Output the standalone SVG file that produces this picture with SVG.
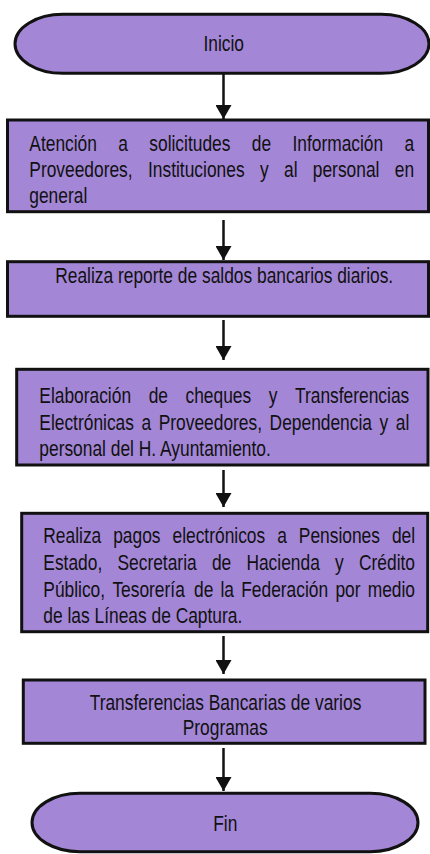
<svg xmlns="http://www.w3.org/2000/svg" width="430" height="854" viewBox="0 0 430 854">
<style>
.shape{fill:#A386D6;stroke:#111;stroke-width:3}
.t{font-family:"Liberation Sans","Arial",sans-serif;font-size:21.2px;fill:#111}
.c{text-anchor:middle}
.conn{stroke:#111;stroke-width:2.5;fill:none;marker-end:url(#ah)}
</style>
<defs>
<marker id="ah" markerUnits="userSpaceOnUse" markerWidth="14" markerHeight="16" viewBox="0 0 14 16" refX="14" refY="8" orient="auto">
<path d="M0,0 L14,8 L0,16 z" fill="#111"/>
</marker>
</defs>
<g id="connectors">
<line class="conn" x1="223.5" y1="74" x2="223.5" y2="119"/>
<line class="conn" x1="223.5" y1="220" x2="223.5" y2="260"/>
<line class="conn" x1="223.5" y1="320" x2="223.5" y2="360"/>
<line class="conn" x1="223.5" y1="470" x2="223.5" y2="507"/>
<line class="conn" x1="223.5" y1="636" x2="223.5" y2="674"/>
<line class="conn" x1="223.5" y1="748" x2="223.5" y2="791"/>
</g>
<g id="inicio">
<rect class="shape" x="15" y="14.3" width="414" height="59" rx="48" ry="29.5"/>
<g transform="scale(0.82,1)"><text class="t c" x="272.8" y="51.5">Inicio</text></g>
</g>
<g id="atencion">
<rect class="shape" x="7.5" y="120" width="421" height="91.7"/>
<g transform="scale(0.82,1)">
<text class="t" y="150.7"><tspan x="35.73">Atención</tspan><tspan x="144.27">a</tspan><tspan x="182.07">solicitudes</tspan><tspan x="307.07">de</tspan><tspan x="356.59">Información</tspan><tspan x="493.29">a</tspan></text>
<text class="t" y="177.5"><tspan x="35.73">Proveedores,</tspan><tspan x="180.49">Instituciones</tspan><tspan x="317.07">y</tspan><tspan x="346.34">al</tspan><tspan x="381.46">personal</tspan><tspan x="481.46">en</tspan></text>
<text class="t" x="35.73" y="203.5">general</text>
</g>
</g>
<g id="reporte">
<rect class="shape" x="7.5" y="261.7" width="421" height="54.6"/>
<g transform="scale(0.82,1)"><text class="t c" x="273.41" y="283">Realiza reporte de saldos bancarios diarios.</text></g>
</g>
<g id="cheques">
<rect class="shape" x="16.7" y="369.3" width="411.3" height="95.7"/>
<g transform="scale(0.82,1)">
<text class="t" y="403.3"><tspan x="47.93">Elaboración</tspan><tspan x="181.28">de</tspan><tspan x="226.22">cheques</tspan><tspan x="327.74">y</tspan><tspan x="359.76">Transferencias</tspan></text>
<text class="t" y="430"><tspan x="47.93">Electrónicas</tspan><tspan x="172.56">a</tspan><tspan x="193.54">Proveedores,</tspan><tspan x="328.78">Dependencia</tspan><tspan x="462.93">y</tspan><tspan x="482.68">al</tspan></text>
<text class="t" x="47.93" y="456.5">personal del H. Ayuntamiento.</text>
</g>
</g>
<g id="pagos">
<rect class="shape" x="21.7" y="513.3" width="406" height="118.4"/>
<g transform="scale(0.82,1)">
<text class="t" y="543.5"><tspan x="52.8">Realiza</tspan><tspan x="138.05">pagos</tspan><tspan x="210.37">electrónicos</tspan><tspan x="338.05">a</tspan><tspan x="364.39">Pensiones</tspan><tspan x="477.93">del</tspan></text>
<text class="t" y="570.5"><tspan x="52.8">Estado,</tspan><tspan x="143.29">Secretaria</tspan><tspan x="258.41">de</tspan><tspan x="300.49">Hacienda</tspan><tspan x="408.66">y</tspan><tspan x="437.8">Crédito</tspan></text>
<text class="t" y="597.3"><tspan x="52.8">Público,</tspan><tspan x="137.07">Tesorería</tspan><tspan x="236.59">de</tspan><tspan x="268.9">la</tspan><tspan x="294.15">Federación</tspan><tspan x="409.02">por</tspan><tspan x="448.41">medio</tspan></text>
<text class="t" x="52.8" y="623.5">de las Líneas de Captura.</text>
</g>
</g>
<g id="transferencias">
<rect class="shape" x="23.3" y="680" width="401.7" height="63.3"/>
<g transform="scale(0.82,1)">
<text class="t c" x="275" y="710">Transferencias Bancarias de varios</text>
<text class="t c" x="274.63" y="735">Programas</text>
</g>
</g>
<g id="fin">
<rect class="shape" x="32" y="793.3" width="386" height="58.4" rx="48" ry="29.2"/>
<g transform="scale(0.82,1)"><text class="t c" x="274.76" y="831">Fin</text></g>
</g>
</svg>
